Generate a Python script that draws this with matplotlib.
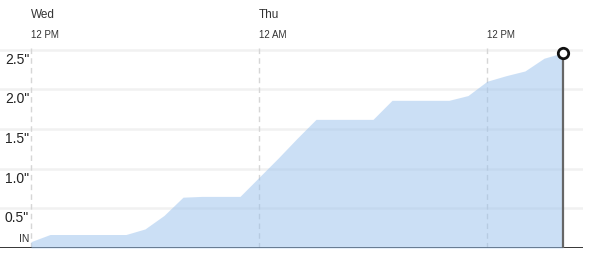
import matplotlib
matplotlib.use("Agg")
import matplotlib.pyplot as plt
import matplotlib.transforms as mtransforms

# hours since Wed 12 PM
hours = list(range(0, 29))
precip = [0.08, 0.17, 0.17, 0.17, 0.17, 0.17, 0.24, 0.41, 0.64, 0.65,
          0.65, 0.65, 0.89, 1.13, 1.38, 1.62, 1.62, 1.62, 1.62, 1.86,
          1.86, 1.86, 1.86, 1.92, 2.10, 2.17, 2.23, 2.39, 2.46]
y_ticks = [0.5, 1.0, 1.5, 2.0, 2.5]
y_tick_labels = ['0.5"', '1.0"', '1.5"', '2.0"', '2.5"']
zero_label = "IN"
day_ticks = [0, 12]
day_labels = ["Wed", "Thu"]
time_ticks = [0, 12, 24]
time_labels = ["12 PM", "12 AM", "12 PM"]

W, H = 591, 256
fig = plt.figure(figsize=(W / 100, H / 100), dpi=100)
ax = fig.add_axes([0, 1 - 248 / H, 583 / W, (248 - 45) / H])
x0 = -31 / 19
x1 = (583 - 31) / 19
ax.set_xlim(x0, x1)
ax.set_ylim(0, (248 - 45) / 79.4)
ax.axis("off")

# gridlines
for v in y_ticks:
    ax.axhline(v, color="#f1f1f1", lw=1.8, zorder=0)
# vertical dashed lines
for t in time_ticks:
    ax.axvline(t, color="#d6d6d6", lw=1, ls=(0, (4, 3)), zorder=0.5)
# baseline
ax.axhline(0, color="#222222", lw=2, zorder=1)

ax.fill_between(hours, precip, 0, color="#99c1ed", alpha=0.5, lw=0, zorder=2)

# end marker and drop line
ax.plot([hours[-1], hours[-1]], [0, precip[-1]], color="#666666", lw=1.6, zorder=3,
        solid_capstyle="butt")
ax.plot([hours[-1]], [precip[-1]], marker="o", ms=7.5, mfc="white", mec="#111111",
        mew=2, zorder=4)

font_main = ["Liberation Sans", "DejaVu Sans"]
font_narrow = ["Liberation Sans Narrow", "Liberation Sans", "DejaVu Sans"]

# y labels
down = mtransforms.ScaledTranslation(0, -3 / 100, fig.dpi_scale_trans)
for v, lab in zip(y_ticks, y_tick_labels):
    ax.text(-0.1, v, lab, ha="right", va="top", fontsize=10, color="#222222",
            family=font_narrow, transform=ax.transData + down, clip_on=False)
up = mtransforms.ScaledTranslation(0, 6 / 100, fig.dpi_scale_trans)
ax.text(-0.1, 0, zero_label, ha="right", va="baseline", fontsize=7.5, color="#333333",
        family=font_narrow, transform=ax.transData + up, clip_on=False)

# top labels
blend = mtransforms.blended_transform_factory(ax.transData, fig.transFigure)
for t, lab in zip(day_ticks, day_labels):
    ax.text(t, 1 - 15 / H, lab, ha="left", va="center", fontsize=8.5, color="#333333",
            family=font_main, transform=blend, clip_on=False)
for t, lab in zip(time_ticks, time_labels):
    ax.text(t, 1 - 35 / H, lab, ha="left", va="center", fontsize=7, color="#333333",
            family=font_narrow, transform=blend, clip_on=False)

fig.savefig("out.png", dpi=100)
